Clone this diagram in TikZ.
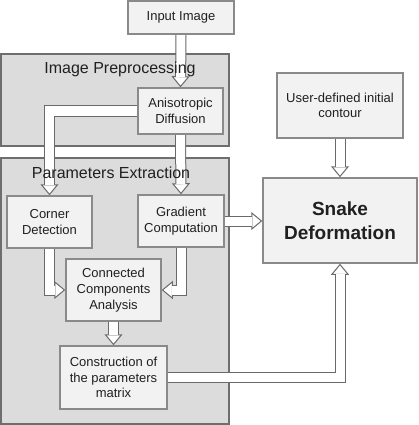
\documentclass[tikz,border=0pt]{standalone}
\usepackage{fontspec}
\setmainfont{Liberation Sans}
\usetikzlibrary{arrows.meta}
\pgfdeclarelayer{panel}
\pgfdeclarelayer{arrow}
\pgfsetlayers{panel,arrow,main}
\definecolor{panelfill}{HTML}{DCDCDD}
\definecolor{panelline}{HTML}{6E6E6E}
\definecolor{boxfill}{HTML}{F2F2F2}
\definecolor{boxline}{HTML}{8A8A8A}
\definecolor{arrowline}{HTML}{6A6A6A}
\definecolor{txt}{HTML}{202020}
\tikzset{
  box/.style={draw=boxline, line width=1.5pt, fill=boxfill, text=txt, align=center,
    inner sep=0pt, font=\fontsize{13}{15.7}\selectfont},
  paneltitle/.style={text=txt, anchor=base, inner sep=0pt, font=\fontsize{16}{19}\selectfont},
  panelbox/.style={draw=panelline, line width=1.5pt, fill=panelfill},
  arrowout/.style={draw=arrowline, line width=11pt, line join=miter,
    -{Triangle[width=18pt,length=11pt,line width=1pt,fill=white]}},
  arrowin/.style={draw=white, line width=9pt, line join=miter, shorten >=10pt},
}
\newcommand{\blockarrow}[1]{\draw[arrowout] #1; \draw[arrowin] #1;}
\begin{document}
\begin{tikzpicture}[x=1pt,y=-1pt]
\useasboundingbox (0,0) rectangle (418,425);

% panels
\begin{pgfonlayer}{panel}
\draw[panelbox] (1,54) rectangle (229,146);
\draw[panelbox] (1,158) rectangle (229,424);
\end{pgfonlayer}
\node[paneltitle] (t1) at (120,74) {Image Preprocessing};
\node[paneltitle] (t2) at (111,178) {Parameters Extraction};

% boxes
\node[box, minimum width=106pt, minimum height=33pt] (in) at (181,17.5) {Input Image};
\node[box, minimum width=85pt, minimum height=46pt] (an) at (180.5,111) {Anisotropic\\Diffusion};
\node[box, minimum width=85pt, minimum height=52pt] (co) at (49.5,222) {Corner\\Detection};
\node[box, minimum width=86pt, minimum height=52pt] (gr) at (181,221) {Gradient\\Computation};
\node[box, minimum width=95pt, minimum height=62pt] (cc) at (113.5,290) {Connected\\Components\\Analysis};
\node[box, minimum width=107pt, minimum height=63pt] (cm) at (113.5,377.5) {Construction of\\the parameters\\matrix};
\node[box, minimum width=126pt, minimum height=65pt] (us) at (340,105.5) {User-defined initial\\contour};
\node[box, minimum width=154pt, minimum height=85pt, font=\fontsize{19}{24}\selectfont\bfseries] (sn) at (340,220.5) {Snake\\Deformation};

% arrows
\begin{pgfonlayer}{arrow}
\blockarrow{(in.south) -- (an.north)}
\blockarrow{(an.west) -| (co.north)}
\blockarrow{(an.south) -- (gr.north)}
\blockarrow{(co.south) |- (cc.west)}
\blockarrow{(gr.south) |- (cc.east)}
\blockarrow{(cc.south) -- (cm.north)}
\blockarrow{(cm.east) -| (sn.south)}
\blockarrow{(gr.east) -- (gr.east -| sn.west)}
\blockarrow{(us.south) -- (sn.north)}
\end{pgfonlayer}
\end{tikzpicture}
\end{document}
